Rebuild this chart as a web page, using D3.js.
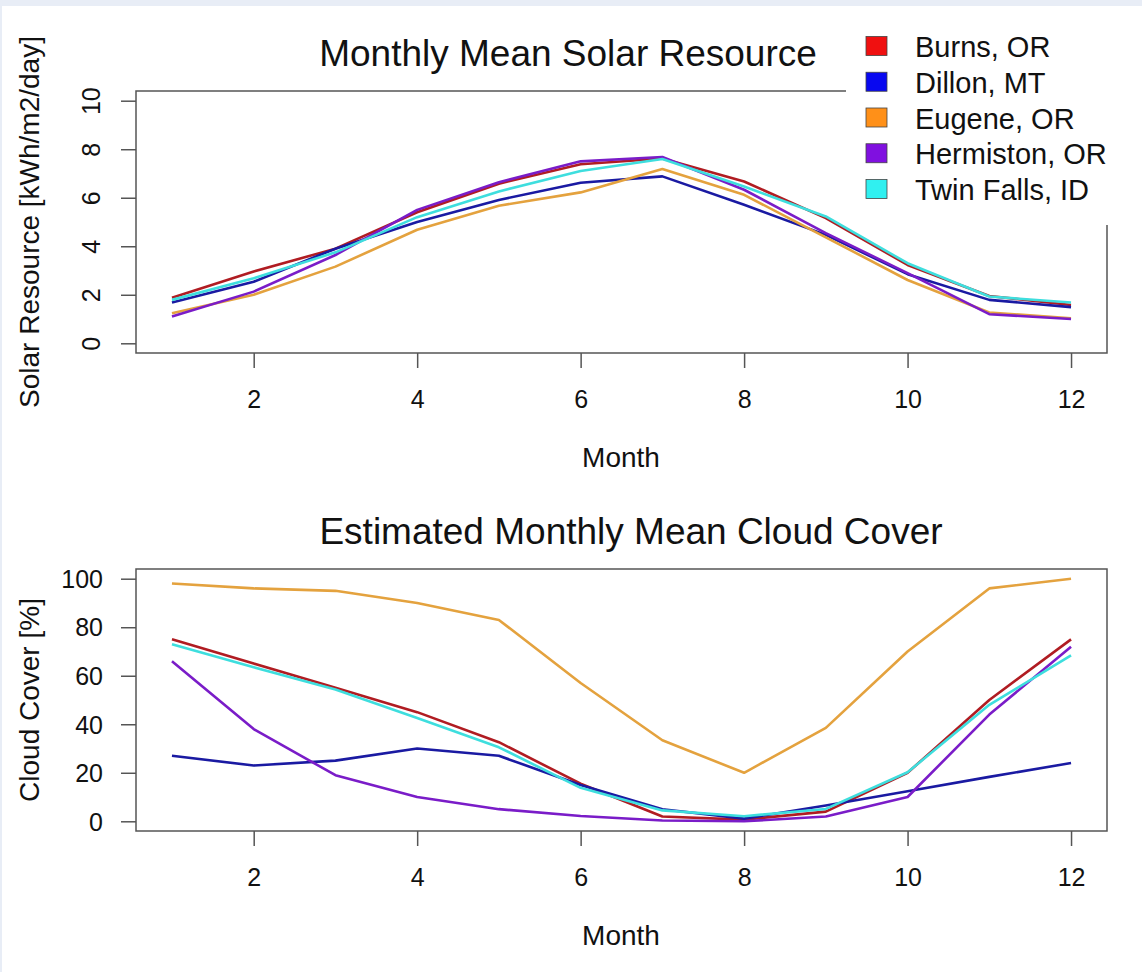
<!DOCTYPE html>
<html>
<head>
<meta charset="utf-8">
<script src="https://cdn.jsdelivr.net/npm/d3@7"></script>
<style>
  body { margin: 0; background: #e8edf6; }
  svg { display: block; }
  text { font-family: "Liberation Sans", Arial, sans-serif; fill: #111; }
</style>
</head>
<body>
<svg id="chart" width="1142" height="972"></svg>
<script>
// months on the x axis
var months = [1, 2, 3, 4, 5, 6, 7, 8, 9, 10, 11, 12];
var sites = ["Burns, OR", "Dillon, MT", "Eugene, OR", "Hermiston, OR", "Twin Falls, ID"];

// monthly mean solar resource [kWh/m2/day]
var solarBurns     = [1.88, 2.96, 3.90, 5.40, 6.58, 7.38, 7.62, 6.67, 5.16, 3.23, 1.95, 1.58];
var solarDillon    = [1.68, 2.54, 3.90, 5.00, 5.91, 6.62, 6.88, 5.71, 4.47, 2.85, 1.79, 1.49];
var solarEugene    = [1.24, 2.00, 3.16, 4.68, 5.67, 6.22, 7.18, 6.12, 4.37, 2.61, 1.27, 1.03];
var solarHermiston = [1.10, 2.13, 3.64, 5.50, 6.64, 7.50, 7.68, 6.33, 4.54, 2.89, 1.20, 1.00];
var solarTwinFalls = [1.79, 2.68, 3.75, 5.20, 6.26, 7.10, 7.60, 6.46, 5.23, 3.30, 1.93, 1.68];

// estimated monthly mean cloud cover [%]
var cloudBurns     = [75, 65, 55, 45, 32.6, 15.5, 2, 0.7, 4, 20, 50, 75];
var cloudDillon    = [27, 23, 25, 30, 27, 15, 5, 1.1, 6.5, 12.4, 18.3, 24];
var cloudEugene    = [98, 96, 95, 90, 83, 57, 33.4, 20, 38.5, 70, 96, 100];
var cloudHermiston = [66, 38, 19, 10, 5, 2.2, 0.3, 0, 2, 10, 44, 72];
var cloudTwinFalls = [73, 63.5, 54.3, 42.6, 30.5, 13.8, 4.5, 2.1, 5.1, 20.2, 48, 68.4];

var legendColors = ["#f01010", "#0808f0", "#ff9018", "#8010e0", "#30f0f0"];
var lineColors   = ["#b01c22", "#1a1aa2", "#e4a23e", "#7a1cc8", "#3edede"];

var xTicks = [2, 4, 6, 8, 10, 12];
var solarTicks = [0, 2, 4, 6, 8, 10];
var cloudTicks = [0, 20, 40, 60, 80, 100];

var svg = d3.select('#chart');

// white page with the light slide border on top and left
svg.append('rect')
    .attr('x', 2).attr('y', 6)
    .attr('width', 1140).attr('height', 966)
    .attr('fill', '#ffffff');

var left = 136, right = 1107;

var xScale = d3.scaleLinear()
    .domain([0.56, 12.44])
    .range([left, right]);

function drawPanel(opts) {
    var g = svg.append('g');
    var yScale = d3.scaleLinear().domain(opts.yDomain).range([opts.bottom, opts.top]);

    var line = d3.line()
        .x(function(d, i) { return xScale(months[i]); })
        .y(function(d) { return yScale(d); });

    opts.series.forEach(function(values, k) {
        g.append('path')
            .datum(values)
            .attr('d', line)
            .attr('fill', 'none')
            .attr('stroke', lineColors[k])
            .attr('stroke-width', 2.6)
            .attr('stroke-linejoin', 'round');
    });

    // plot box
    g.append('rect')
        .attr('x', left).attr('y', opts.top)
        .attr('width', right - left).attr('height', opts.bottom - opts.top)
        .attr('fill', 'none')
        .attr('stroke', '#555')
        .attr('stroke-width', 1.5);

    // x axis
    var xAxis = g.append('g')
        .attr('transform', 'translate(0,' + opts.bottom + ')')
        .call(d3.axisBottom(xScale).tickValues(xTicks).tickSize(15).tickSizeOuter(0).tickPadding(22));
    xAxis.select('.domain').remove();
    xAxis.selectAll('line').attr('stroke', '#555').attr('stroke-width', 1.5);
    xAxis.selectAll('text')
        .attr('font-size', 25)
        .attr('fill', '#111')
        .attr('font-family', '"Liberation Sans", Arial, sans-serif');

    // y axis
    var yAxis = g.append('g')
        .attr('transform', 'translate(' + left + ',0)')
        .call(d3.axisLeft(yScale).tickValues(opts.yTicks).tickSize(15).tickSizeOuter(0));
    yAxis.select('.domain').remove();
    yAxis.selectAll('line').attr('stroke', '#555').attr('stroke-width', 1.5);
    yAxis.selectAll('text')
        .attr('font-size', 25)
        .attr('fill', '#111')
        .attr('font-family', '"Liberation Sans", Arial, sans-serif');
    if (opts.rotateY) {
        yAxis.selectAll('text')
            .attr('x', null).attr('dy', null)
            .attr('text-anchor', 'middle')
            .attr('transform', 'translate(-36,0) rotate(-90)');
    } else {
        yAxis.selectAll('text').attr('x', -33).attr('dy', '0.35em');
    }

    // titles and axis labels
    g.append('text')
        .attr('x', opts.titleX).attr('y', opts.top - 25)
        .attr('text-anchor', 'middle')
        .attr('font-size', 37)
        .text(opts.title);

    g.append('text')
        .attr('x', 621).attr('y', opts.bottom + 114)
        .attr('text-anchor', 'middle')
        .attr('font-size', 28)
        .text('Month');

    g.append('text')
        .attr('transform', 'translate(39,' + ((opts.top + opts.bottom) / 2) + ') rotate(-90)')
        .attr('text-anchor', 'middle')
        .attr('font-size', 28)
        .text(opts.yLabel);
}

drawPanel({
    top: 91, bottom: 353,
    yDomain: [-0.4, 10.4], yTicks: solarTicks, rotateY: true,
    series: [solarBurns, solarDillon, solarEugene, solarHermiston, solarTwinFalls],
    title: 'Monthly Mean Solar Resource', titleX: 568,
    yLabel: 'Solar Resource [kWh/m2/day]'
});

drawPanel({
    top: 569, bottom: 831,
    yDomain: [-4, 104], yTicks: cloudTicks, rotateY: false,
    series: [cloudBurns, cloudDillon, cloudEugene, cloudHermiston, cloudTwinFalls],
    title: 'Estimated Monthly Mean Cloud Cover', titleX: 631,
    yLabel: 'Cloud Cover [%]'
});

// legend, drawn on a white patch over the top-right of the upper box
var legend = svg.append('g');
legend.append('rect')
    .attr('x', 846).attr('y', 6)
    .attr('width', 296).attr('height', 219)
    .attr('fill', '#ffffff');

var rowY = d3.scalePoint().domain(sites).range([46, 189]);

var item = legend.selectAll('.item')
    .data(sites)
    .enter()
    .append('g')
    .attr('class', 'item')
    .attr('transform', function(d) { return 'translate(0,' + rowY(d) + ')'; });

item.append('rect')
    .attr('x', 866).attr('y', -9.5)
    .attr('width', 21).attr('height', 19)
    .attr('fill', function(d, i) { return legendColors[i]; })
    .attr('stroke', '#444')
    .attr('stroke-width', 0.8);

item.append('text')
    .attr('x', 915).attr('y', 11)
    .attr('font-size', 29)
    .text(function(d) { return d; });
</script>
</body>
</html>
